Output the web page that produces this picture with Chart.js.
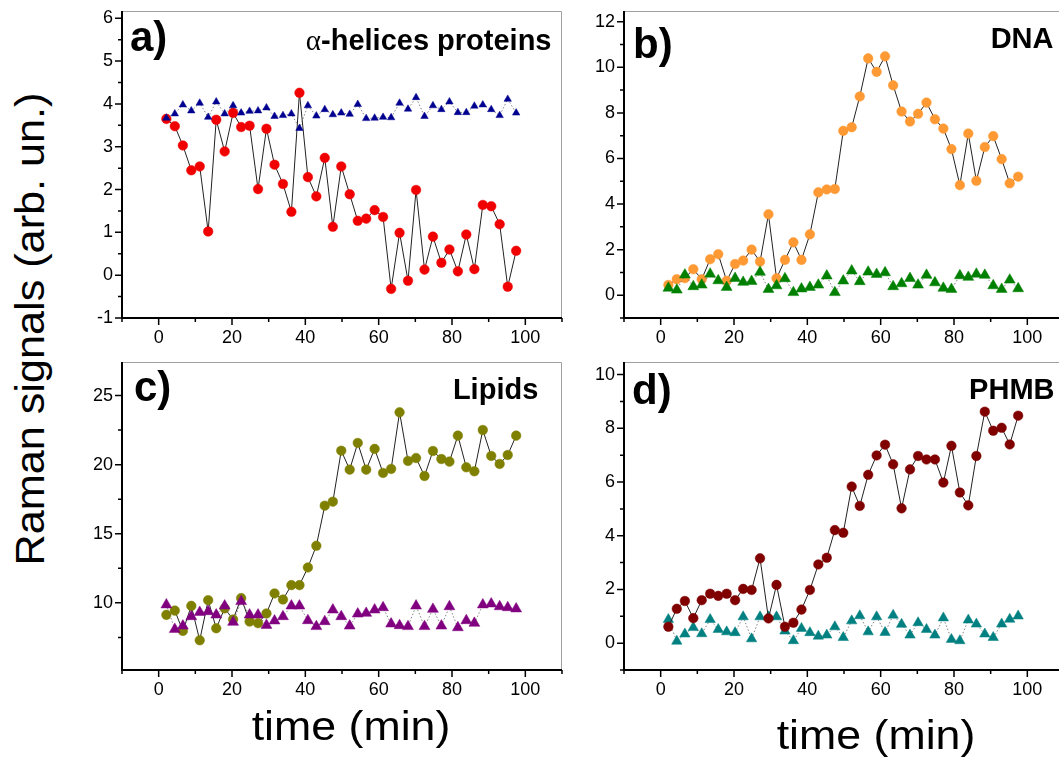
<!DOCTYPE html>
<html>
<head>
<meta charset="utf-8">
<script src="https://cdn.jsdelivr.net/npm/chart.js@4.4.1/dist/chart.umd.min.js"></script>
<style>
  html, body { margin: 0; padding: 0; width: 1059px; height: 759px; overflow: hidden; background: #fff; }
  #wrap { position: relative; width: 1059px; height: 759px; overflow: hidden; }
  canvas { position: absolute; }
  .t { position: absolute; font-family: "Liberation Sans", Arial, sans-serif; line-height: 1; white-space: nowrap; color: #000; }
  .pl { font-weight: bold; font-size: 42px; }
  .rt { font-weight: bold; font-size: 29px; transform: translateX(-100%); }
  .xt { font-size: 41px; transform: translateX(-50%) scaleX(1.09); }
  .yt { font-size: 40px; transform: translate(-50%, -50%) rotate(-90deg) scaleX(1.08); }
  .alpha { font-family: "Liberation Serif", "DejaVu Serif", serif; font-weight: normal; }
</style>
</head>
<body>
<div id="wrap">
  <div class="t yt" style="left:29.6px; top:329px;">Raman signals (arb. un.)</div>

  <div class="t pl" style="left:130px; top:16px;">a)</div>
  <div class="t pl" style="left:633px; top:22.7px;">b)</div>
  <div class="t pl" style="left:134px; top:366px;">c)</div>
  <div class="t pl" style="left:632px; top:369.4px;">d)</div>

  <div class="t rt" style="left:551.5px; top:25.5px;"><span class="alpha">α</span>-helices proteins</div>
  <div class="t rt" style="left:1053.5px; top:23.8px;">DNA</div>
  <div class="t rt" style="left:538.3px; top:374.8px;">Lipids</div>
  <div class="t rt" style="left:1054.5px; top:374.8px;">PHMB</div>

  <div class="t xt" style="left:351px; top:706.3px;">time (min)</div>
  <div class="t xt" style="left:876px; top:715.3px;">time (min)</div>
</div>
<script>
// acquisition times (min), same for every panel
const times = [2.1, 4.4, 6.6, 8.9, 11.2, 13.5, 15.7, 18.0, 20.3, 22.5, 24.8, 27.1, 29.4, 31.6, 33.9,
  36.2, 38.4, 40.7, 43.0, 45.3, 47.5, 49.8, 52.1, 54.3, 56.6, 58.9, 61.2, 63.4, 65.7, 68.0,
  70.2, 72.5, 74.8, 77.1, 79.3, 81.6, 83.9, 86.1, 88.4, 90.7, 93.0, 95.2, 97.5];

// a) alpha-helices proteins
const helixCircles = [3.65, 3.48, 3.03, 2.45, 2.54, 1.02, 3.63, 2.89, 3.79, 3.46,
  3.49, 2.01, 3.42, 2.58, 2.13, 1.48, 4.26, 2.29, 1.84, 2.74,
  1.13, 2.54, 1.89, 1.27, 1.32, 1.52, 1.36, -0.32, 0.99, -0.13,
  1.99, 0.13, 0.90, 0.29, 0.60, 0.09, 0.95, 0.14, 1.64, 1.61,
  1.19, -0.27, 0.57];
const helixTriangles = [3.67, 3.77, 3.98, 3.84, 4.02, 3.69, 4.05, 3.77, 3.96, 3.79,
  3.83, 3.84, 3.91, 3.71, 3.73, 3.77, 3.43, 3.96, 3.72, 3.87,
  3.75, 3.79, 3.76, 3.99, 3.66, 3.67, 3.69, 3.68, 4.02, 3.88,
  4.15, 3.71, 3.96, 3.87, 4.05, 3.80, 3.80, 3.95, 3.98, 3.87,
  3.73, 4.11, 3.79];

// b) DNA
const dnaCircles = [0.45, 0.70, 0.75, 1.14, 0.70, 1.58, 1.80, 0.63, 1.37, 1.52,
  2.00, 1.47, 3.55, 0.74, 1.55, 2.32, 1.55, 2.67, 4.51, 4.64,
  4.66, 7.21, 7.37, 8.72, 10.39, 9.80, 10.48, 9.21, 8.06, 7.62,
  7.96, 8.45, 7.72, 7.31, 6.41, 4.83, 7.09, 5.02, 6.50, 6.98,
  5.97, 4.91, 5.20];
const dnaTriangles = [0.31, 0.23, 0.89, 0.38, 0.45, 0.93, 0.64, 0.35, 0.74, 0.57,
  0.61, 1.01, 0.26, 0.42, 0.73, 0.12, 0.28, 0.35, 0.45, 0.85,
  0.12, 0.63, 1.07, 0.60, 1.02, 0.92, 0.99, 0.38, 0.51, 0.74,
  0.45, 0.88, 0.55, 0.31, 0.26, 0.86, 0.79, 0.93, 0.88, 0.42,
  0.26, 0.67, 0.29];

// c) Lipids
const lipidCircles = [9.13, 9.44, 7.97, 9.78, 7.29, 10.19, 8.16, 9.6, 8.8, 10.34,
  8.65, 8.53, 9.23, 10.68, 10.24, 11.28, 11.28, 12.56, 14.13, 17.03,
  17.32, 21.01, 19.64, 21.57, 19.64, 21.14, 19.40, 19.69, 23.79, 20.27,
  20.48, 19.18, 20.99, 20.41, 20.22, 22.10, 19.81, 19.52, 22.51, 20.63,
  20.05, 20.70, 22.10];
const lipidTriangles = [9.86, 8.09, 8.33, 9.01, 9.32, 9.37, 9.13, 9.78, 8.60, 10.10,
  9.13, 9.13, 8.38, 8.70, 9.01, 9.78, 9.78, 8.72, 8.29, 8.65,
  9.49, 9.01, 8.33, 9.20, 9.25, 9.49, 9.66, 8.48, 8.36, 8.29,
  9.78, 8.29, 9.54, 8.33, 9.73, 8.21, 8.72, 8.53, 9.86, 9.93,
  9.73, 9.66, 9.57];

// d) PHMB
const phmbCircles = [0.61, 1.28, 1.57, 0.93, 1.60, 1.84, 1.76, 1.84, 1.60, 2.02,
  1.98, 3.16, 0.92, 2.17, 0.61, 0.76, 1.25, 1.98, 2.93, 3.18,
  4.21, 4.11, 5.83, 5.11, 6.27, 6.99, 7.39, 6.66, 5.02, 6.47,
  6.97, 6.84, 6.84, 5.98, 7.35, 5.61, 5.13, 6.97, 8.62, 7.91,
  8.02, 7.40, 8.47];
const phmbTriangles = [0.88, 0.07, 0.34, 0.58, 0.35, 0.88, 0.51, 0.42, 0.39, 0.98,
  0.16, 0.98, 0.98, 0.98, 0.45, 0.09, 0.55, 0.39, 0.26, 0.30,
  0.61, 0.21, 0.83, 1.02, 0.42, 0.98, 0.40, 1.04, 0.70, 0.30,
  0.76, 0.51, 0.30, 0.94, 0.14, 0.09, 0.86, 0.71, 0.34, 0.21,
  0.71, 0.89, 1.01];

// tick values
const xMajor = [0, 20, 40, 60, 80, 100];
const xMinor = [-10, 10, 30, 50, 70, 90, 110];
const aYMajor = [-1, 0, 1, 2, 3, 4, 5, 6];
const aYMinor = [-0.5, 0.5, 1.5, 2.5, 3.5, 4.5, 5.5];
const bYMajor = [0, 2, 4, 6, 8, 10, 12];
const bYMinor = [-1, 1, 3, 5, 7, 9, 11];
const cYMajor = [10, 15, 20, 25];
const cYMinor = [7.5, 12.5, 17.5, 22.5];
const dYMajor = [0, 2, 4, 6, 8, 10];
const dYMinor = [-1, 1, 3, 5, 7, 9];

const AX_W = 60;   // room for y labels
const AX_H = 45;   // room for x labels
const PAD = 12;

// draws frame, axes and major/minor ticks from the chart scales
const frameTicks = {
  id: "frameTicks",
  afterDraw(chart, args, o) {
    const { ctx, chartArea: a } = chart;
    const x = chart.scales.x, y = chart.scales.y;
    ctx.save();
    ctx.strokeStyle = "#a0a0a0";
    ctx.lineWidth = 1;
    ctx.beginPath();
    ctx.moveTo(a.left, a.top + 0.5);
    ctx.lineTo(a.right - 0.5, a.top + 0.5);
    ctx.lineTo(a.right - 0.5, a.bottom);
    ctx.stroke();

    ctx.strokeStyle = "#000";
    ctx.lineWidth = 2;
    ctx.beginPath();
    ctx.moveTo(a.left, a.top);
    ctx.lineTo(a.left, a.bottom);
    ctx.lineTo(a.right, a.bottom);
    ctx.stroke();

    ctx.lineWidth = 1.5;
    ctx.beginPath();
    o.yMajor.forEach((v) => { const p = y.getPixelForValue(v); ctx.moveTo(a.left - 7, p); ctx.lineTo(a.left, p); });
    o.yMinor.forEach((v) => { const p = y.getPixelForValue(v); ctx.moveTo(a.left - 4, p); ctx.lineTo(a.left, p); });
    xMajor.forEach((v) => { const p = x.getPixelForValue(v); ctx.moveTo(p, a.bottom); ctx.lineTo(p, a.bottom + 7); });
    xMinor.forEach((v) => { const p = x.getPixelForValue(v); ctx.moveTo(p, a.bottom); ctx.lineTo(p, a.bottom + 4); });
    ctx.stroke();
    ctx.restore();
  },
};

function xy(vals) {
  return vals.map((v, i) => ({ x: times[i], y: v }));
}

function circles(vals, color) {
  return {
    data: xy(vals), showLine: true, borderColor: "#222", borderWidth: 1,
    pointStyle: "circle", pointRadius: 4.8, pointBackgroundColor: color, pointBorderColor: color, pointBorderWidth: 0.5,
  };
}

function triangles(vals, color, r) {
  return {
    data: xy(vals), showLine: true, borderColor: "#666", borderWidth: 0.8, borderDash: [1.5, 2],
    pointStyle: "triangle", pointRadius: r, pointBackgroundColor: color, pointBorderColor: color, pointBorderWidth: 0.5,
  };
}

function makeChart(box, datasets, yMin, yMax, yMajor, yMinor) {
  const c = document.createElement("canvas");
  const w = box.w + AX_W + PAD, h = box.h + PAD + AX_H;
  c.width = w; c.height = h;
  c.style.left = (box.left - AX_W) + "px";
  c.style.top = (box.top - PAD) + "px";
  c.style.width = w + "px"; c.style.height = h + "px";
  document.getElementById("wrap").prepend(c);

  const tickFont = { family: "'Liberation Sans', Arial, sans-serif", size: 18 };
  new Chart(c.getContext("2d"), {
    type: "scatter",
    data: { datasets: datasets },
    plugins: [frameTicks],
    options: {
      responsive: false,
      animation: false,
      devicePixelRatio: 1,
      layout: { padding: { top: PAD, right: PAD, left: 0, bottom: 0 } },
      plugins: {
        legend: { display: false },
        tooltip: { enabled: false },
        frameTicks: { yMajor: yMajor, yMinor: yMinor },
      },
      scales: {
        x: {
          type: "linear", min: -10, max: 110,
          grid: { display: false, drawTicks: false }, border: { display: false },
          ticks: { font: tickFont, color: "#000", padding: 9, maxRotation: 0, autoSkip: false },
          afterBuildTicks: (s) => { s.ticks = xMajor.map((v) => ({ value: v })); },
          afterFit: (s) => { s.height = AX_H; s.paddingLeft = 0; s.paddingRight = 0; },
        },
        y: {
          type: "linear", min: yMin, max: yMax,
          grid: { display: false, drawTicks: false }, border: { display: false },
          ticks: { font: tickFont, color: "#000", padding: 9, autoSkip: false },
          afterBuildTicks: (s) => { s.ticks = yMajor.map((v) => ({ value: v })); },
          afterFit: (s) => { s.width = AX_W; s.paddingTop = 0; s.paddingBottom = 0; },
        },
      },
    },
  });
}

makeChart({ left: 122, top: 11, w: 440, h: 307 },
  [triangles(helixTriangles, "#000090", 4.3), circles(helixCircles, "#f00000")],
  -1, 6.17, aYMajor, aYMinor);

makeChart({ left: 624, top: 11, w: 440, h: 307 },
  [triangles(dnaTriangles, "#008000", 6.3), circles(dnaCircles, "#ff9933")],
  -1, 12.47, bYMajor, bYMinor);

makeChart({ left: 122, top: 362, w: 440, h: 308 },
  [triangles(lipidTriangles, "#800080", 6.3), circles(lipidCircles, "#808000")],
  5.14, 27.43, cYMajor, cYMinor);

makeChart({ left: 624, top: 362, w: 440, h: 308 },
  [circles(phmbCircles, "#800000"), triangles(phmbTriangles, "#008080", 6)],
  -1, 10.47, dYMajor, dYMinor);
</script>
</body>
</html>
